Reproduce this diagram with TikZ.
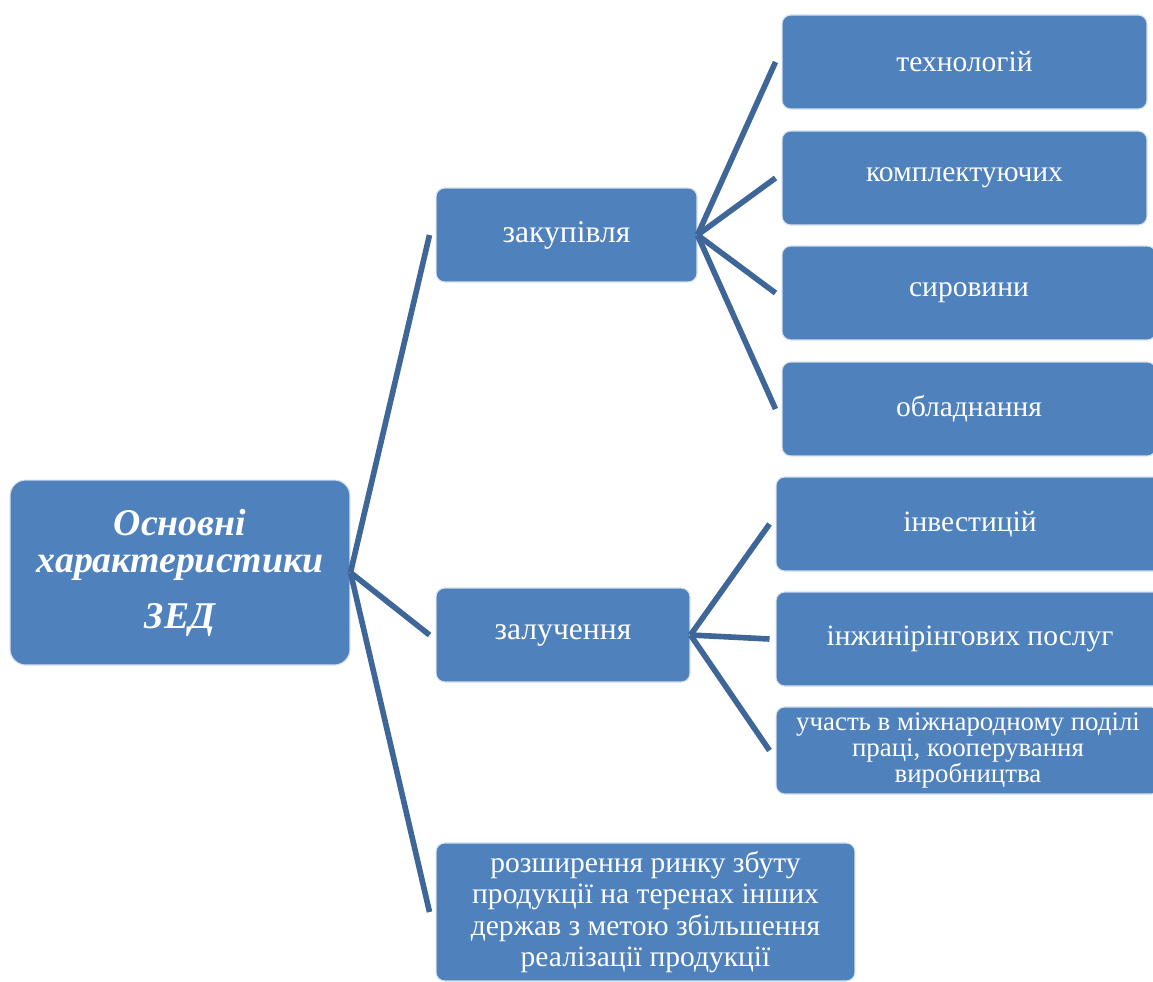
\documentclass[tikz,border=0pt]{standalone}
\usepackage{fontspec}
\setmainfont{Liberation Serif}
\usepackage{tikz}
\usetikzlibrary{positioning}
\definecolor{boxblue}{HTML}{4F81BD}
\definecolor{linkblue}{HTML}{3F6699}
\tikzset{
    catbox/.style={
        rectangle, rounded corners=5pt, draw=white!75!boxblue, fill=boxblue,
        text=white, align=center, line width=0.6pt, inner sep=2pt,
        minimum height=1.88cm, font=\fontsize{16.8}{18}\selectfont
    },
    midbox/.style={
        catbox, font=\fontsize{18}{20}\selectfont
    },
    rootbox/.style={
        catbox, rounded corners=9pt, minimum width=6.8cm, minimum height=3.7cm,
        font=\fontsize{21.5}{21.5}\selectfont\bfseries\itshape
    },
    link/.style={
        draw=linkblue, line width=3.2pt
    },
}
\begin{document}
\begin{tikzpicture}[x=0.02cm, y=-0.02cm]
    \useasboundingbox (0,0) rectangle (1153,981);

    % Root
    \node[rootbox] (zed) at (180,572.5) {Основні\\характеристики\\[10pt]ЗЕД};

    % Second level
    \node[midbox, minimum width=5.22cm] (zak) at (566.5,235) {закупівля};
    \node[midbox, minimum width=5.08cm] (zal) at (563,635) {залучення};
    \node[catbox, minimum width=8.38cm, minimum height=2.76cm, font=\fontsize{16.8}{17.8}\selectfont] (rynok) at (645.5,912) {розширення ринку збуту\\продукції на теренах інших\\держав з метою збільшення\\реалізації продукції};

    % What is purchased
    \node[catbox, minimum width=7.3cm] (tech) at (964.5,62) {технологій};
    \node[catbox, minimum width=7.3cm] (kompl) at (964.5,178) {комплектуючих};
    \node[catbox, minimum width=7.48cm] (syr) at (969,293) {сировини};
    \node[catbox, minimum width=7.48cm] (obl) at (969,409) {обладнання};

    % What is attracted
    \node[catbox, minimum width=7.76cm] (inv) at (970,524) {інвестицій};
    \node[catbox, minimum width=7.76cm] (inzh) at (970,639) {інжинірінгових послуг};
    \node[catbox, minimum width=7.68cm, minimum height=1.74cm, font=\fontsize{15.3}{14.8}\selectfont] (uch) at (968,750.5) {участь в міжнародному поділі\\праці, кооперування\\виробництва};

    % Links
    \foreach \child in {zak, zal, rynok}
        \draw[link] (zed.east) -- ([xshift=-0.12cm]\child.west);
    \foreach \child in {tech, kompl, syr, obl}
        \draw[link] (zak.east) -- ([xshift=-0.12cm]\child.west);
    \foreach \child in {inv, inzh, uch}
        \draw[link] (zal.east) -- ([xshift=-0.12cm]\child.west);

\end{tikzpicture}
\end{document}
